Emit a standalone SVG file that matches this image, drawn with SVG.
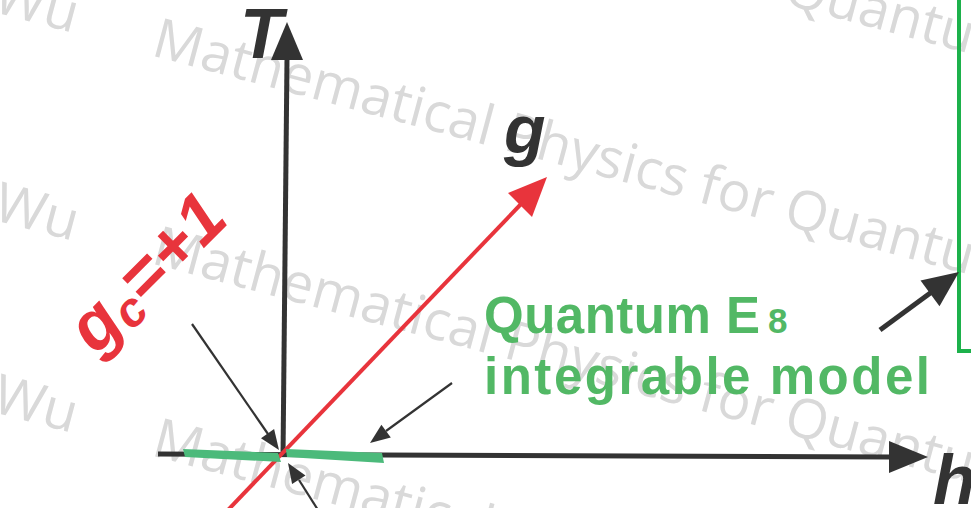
<svg xmlns="http://www.w3.org/2000/svg" width="971" height="508" viewBox="0 0 971 508">
  <style>
    .wm { font-family: "Open Sans", "Noto Sans", sans-serif; font-size: 55px; fill: #d9d9d9; }
    .ax { stroke: #333333; stroke-width: 5; fill: none; }
    .thin { stroke: #333333; stroke-width: 2.2; fill: none; }
    .head { fill: #333333; }
    .lbl { font-family: "Liberation Sans", Arial, sans-serif; font-weight: bold; font-style: italic; fill: #333333; }
    .gtxt { font-family: "Liberation Sans", Arial, sans-serif; font-weight: bold; fill: #52b865; }
  </style>
  <rect width="971" height="508" fill="#ffffff"/>

  <g id="watermark">
    <text class="wm" transform="translate(150,-166) rotate(15)">Mathematical Physics for Quantum</text>
    <text class="wm" text-anchor="end" transform="translate(73,33) rotate(15)">Wu</text>
    <text class="wm" transform="translate(150,55) rotate(15)">Mathematical Physics for Quantum</text>
    <text class="wm" text-anchor="end" transform="translate(73,241) rotate(15)">Wu</text>
    <text class="wm" transform="translate(150,263) rotate(15)">Mathematical Physics for Quantum</text>
    <text class="wm" text-anchor="end" transform="translate(72,433) rotate(15)">Wu</text>
    <text class="wm" transform="translate(150,455) rotate(15)">Mathematical Physics for Quantum</text>
  </g>

  <g id="box">
    <polyline points="959,-2 959,351 973,351" fill="none" stroke="#1db14b" stroke-width="4"/>
  </g>

  <g id="connectors">
    <!-- T axis -->
    <line class="ax" x1="283" y1="457" x2="287" y2="58"/>
    <polygon class="head" points="287,22 303,60 271,60"/>
    <!-- h axis -->
    <line class="ax" x1="158" y1="454" x2="891" y2="457"/>
    <polygon class="head" points="928,457 889,441 889,473"/>
    <!-- g axis -->
    <line x1="228" y1="510" x2="522" y2="203" stroke="#e8343c" stroke-width="4"/>
    <polygon points="547,177 508,193 532,217" fill="#e8343c"/>
    <!-- green segments -->
    <polygon points="183,449 278,453 281,462 185,457" fill="#4cba7b"/>
    <polygon points="286,449 382,453 384,463 287,457" fill="#4cba7b"/>
    <!-- thin arrows -->
    <line class="thin" x1="192" y1="324" x2="268" y2="434"/>
    <polygon class="head" points="279,450 261,438.2 274.1,429"/>
    <line class="thin" x1="452" y1="383" x2="386" y2="431"/>
    <polygon class="head" points="370,443 381.4,424.7 390.8,437.6"/>
    <line class="thin" x1="318" y1="510" x2="299" y2="480"/>
    <polygon class="head" points="288,463 305.5,475.5 292.1,484.1"/>
    <!-- thick arrow to box -->
    <line x1="880" y1="330" x2="931" y2="292.5" stroke="#333333" stroke-width="5"/>
    <polygon class="head" points="959,272 939.5,306.2 920.5,280.4"/>
  </g>

  <g id="label-T">
    <text class="lbl" x="240" y="58" font-size="70">T</text>
  </g>
  <g id="label-g">
    <text class="lbl" x="504" y="153" font-size="68">g</text>
  </g>
  <g id="label-h">
    <text class="lbl" x="933" y="504" font-size="70">h</text>
  </g>
  <g id="label-gc">
    <text class="lbl" transform="translate(96,356) rotate(-45)" font-size="70" style="fill:#e8343c">g<tspan font-size="48" dy="8">c</tspan><tspan dy="-8">=+1</tspan></text>
  </g>
  <g id="label-e8">
    <text class="gtxt" x="484" y="333" font-size="51" textLength="276" lengthAdjust="spacing">Quantum E</text>
    <text class="gtxt" x="768" y="333" font-size="35">8</text>
    <text class="gtxt" x="484" y="394" font-size="51" textLength="446" lengthAdjust="spacing">integrable model</text>
  </g>
</svg>
